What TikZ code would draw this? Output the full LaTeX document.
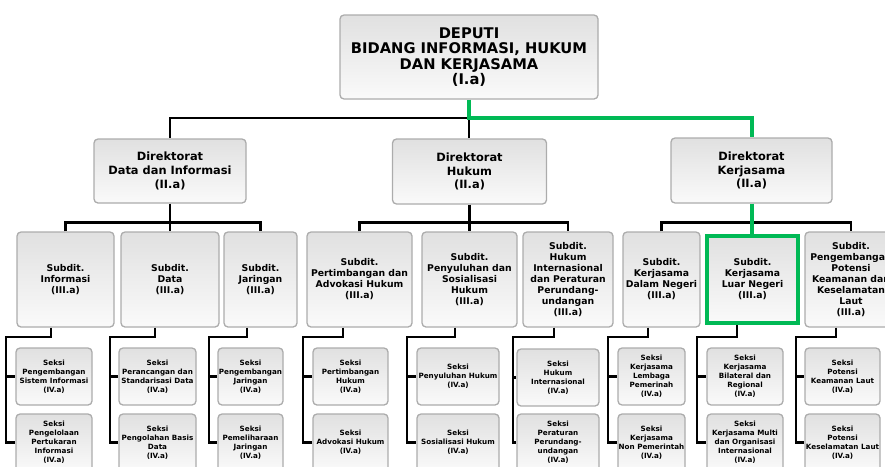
\documentclass[tikz,border=0pt]{standalone}
\usepackage{fontspec}
\setmainfont{DejaVu Sans}
\definecolor{grn}{RGB}{0,185,85}
\definecolor{bord}{RGB}{172,172,172}
\tikzset{
 box/.style={rectangle, rounded corners=4pt, draw=bord, line width=1.3pt, top color=gray!24, bottom color=gray!4, align=center, inner sep=0pt, font=\bfseries},
 topbox/.style={box, font=\bfseries\fontsize{14.7}{15.5}\selectfont},
 dirbox/.style={box, font=\bfseries\fontsize{11.4}{13.6}\selectfont},
 subbox/.style={box, minimum height=95pt, font=\bfseries\fontsize{9.3}{11}\selectfont},
 sekbox/.style={box, minimum height=57pt, font=\bfseries\fontsize{7.2}{9}\selectfont},
 conn/.style={line width=2.3pt, black},
 gconn/.style={line width=4pt, grn},
}
\newcommand\sklink[4]{%
 \draw[conn] (#1.south -| #2,0) -- (#2,337) -| (#3,0 |- #4b.west) -- (#4b.west);
 \draw[conn] (#3,0 |- #4a.west) -- (#4a.west);}
\begin{document}
\begin{tikzpicture}[x=1pt,y=-1pt]
\useasboundingbox (0,0) rectangle (885,466);
% top
\node[topbox, minimum width=258pt, minimum height=84pt] (T) at (469,57) {DEPUTI\\BIDANG INFORMASI, HUKUM\\DAN KERJASAMA\\(I.a)};
% directorates
\node[dirbox, minimum width=152pt, minimum height=64pt] (D1) at (170,171) {Direktorat\\Data dan Informasi\\(II.a)};
\node[dirbox, minimum width=154pt, minimum height=65pt] (D2) at (469.5,171.5) {Direktorat\\Hukum\\(II.a)};
\node[dirbox, minimum width=161pt, minimum height=65pt] (D3) at (751.5,170.5) {Direktorat\\Kerjasama\\(II.a)};
% subdits
\node[subbox, minimum width=97pt] (S1) at (65.5,279.5) {Subdit.\\Informasi\\(III.a)};
\node[subbox, minimum width=98pt] (S2) at (170,279.5) {Subdit.\\Data\\(III.a)};
\node[subbox, minimum width=73pt] (S3) at (260.5,279.5) {Subdit.\\Jaringan\\(III.a)};
\node[subbox, minimum width=105pt] (S4) at (359.5,279.5) {Subdit.\\Pertimbangan dan\\Advokasi Hukum\\(III.a)};
\node[subbox, minimum width=95pt] (S5) at (469.5,279.5) {Subdit.\\Penyuluhan dan\\Sosialisasi\\Hukum\\(III.a)};
\node[subbox, minimum width=90pt] (S6) at (568,279.5) {Subdit.\\Hukum\\Internasional\\dan Peraturan\\Perundang-\\undangan\\(III.a)};
\node[subbox, minimum width=77pt] (S7) at (661.5,279.5) {Subdit.\\Kerjasama\\Dalam Negeri\\(III.a)};
\node[subbox, minimum width=91pt, minimum height=87pt, rounded corners=0pt, draw=grn, line width=4pt] (S8) at (752.5,279.5) {Subdit.\\Kerjasama\\Luar Negeri\\(III.a)};
\node[subbox, minimum width=92pt] (S9) at (851,279.5) {Subdit.\\Pengembangan\\Potensi\\Keamanan dan\\Keselamatan\\Laut\\(III.a)};
% seksi
\node[sekbox, minimum width=76pt] (K1a) at (54,376.5) {Seksi\\Pengembangan\\Sistem Informasi\\(IV.a)};
\node[sekbox, minimum width=76pt] (K1b) at (54,442.5) {Seksi\\Pengelolaan\\Pertukaran\\Informasi\\(IV.a)};
\node[sekbox, minimum width=77pt] (K2a) at (157.5,376.5) {Seksi\\Perancangan dan\\Standarisasi Data\\(IV.a)};
\node[sekbox, minimum width=77pt] (K2b) at (157.5,442.5) {Seksi\\Pengolahan Basis\\Data\\(IV.a)};
\node[sekbox, minimum width=65pt] (K3a) at (250.5,376.5) {Seksi\\Pengembangan\\Jaringan\\(IV.a)};
\node[sekbox, minimum width=65pt] (K3b) at (250.5,442.5) {Seksi\\Pemeliharaan\\Jaringan\\(IV.a)};
\node[sekbox, minimum width=75pt] (K4a) at (350.5,376.5) {Seksi\\Pertimbangan\\Hukum\\(IV.a)};
\node[sekbox, minimum width=75pt] (K4b) at (350.5,442.5) {Seksi\\Advokasi Hukum\\(IV.a)};
\node[sekbox, minimum width=82pt] (K5a) at (458,376.5) {Seksi\\Penyuluhan Hukum\\(IV.a)};
\node[sekbox, minimum width=82pt] (K5b) at (458,442.5) {Seksi\\Sosialisasi Hukum\\(IV.a)};
\node[sekbox, minimum width=82pt] (K6a) at (558,377.5) {Seksi\\Hukum\\Internasional\\(IV.a)};
\node[sekbox, minimum width=82pt] (K6b) at (558,442.5) {Seksi\\Peraturan\\Perundang-\\undangan\\(IV.a)};
\node[sekbox, minimum width=67pt] (K7a) at (651.5,376.5) {Seksi\\Kerjasama\\Lembaga\\Pemerinah\\(IV.a)};
\node[sekbox, minimum width=67pt] (K7b) at (651.5,442.5) {Seksi\\Kerjasama\\Non Pemerintah\\(IV.a)};
\node[sekbox, minimum width=76pt] (K8a) at (745,376.5) {Seksi\\Kerjasama\\Bilateral dan\\Regional\\(IV.a)};
\node[sekbox, minimum width=76pt] (K8b) at (745,442.5) {Seksi\\Kerjasama Multi\\dan Organisasi\\Internasional\\(IV.a)};
\node[sekbox, minimum width=75pt] (K9a) at (842.5,376.5) {Seksi\\Potensi\\Keamanan Laut\\(IV.a)};
\node[sekbox, minimum width=75pt] (K9b) at (842.5,442.5) {Seksi\\Potensi\\Keselamatan Laut\\(IV.a)};
% connectors top levels
\coordinate (J) at (469,118);
\draw[conn] (J) -- (J |- D2.north);
\draw[conn] (J) -| (D1.north);
\draw[conn] (D1.south) -- (D1.south |- S2.north);
\draw[conn] (S1.north) -- ++(0,-9) -| (S3.north);
\draw[conn] (D2.south) -- (D2.south |- S5.north);
\draw[conn] (S4.north) -- ++(0,-9) -| (S6.north);
\draw[conn] (S7.north) -- ++(0,-9) -| (S9.north);
\draw[gconn] (T.south) -- (J) -| (D3.north);
\draw[gconn] (D3.south) -- (D3.south |- S8.north);
% seksi links
\sklink{S1}{51}{6}{K1}
\sklink{S2}{155}{110}{K2}
\sklink{S3}{247}{209}{K3}
\sklink{S4}{343}{303}{K4}
\sklink{S5}{455}{407}{K5}
\sklink{S6}{554}{513}{K6}
\sklink{S7}{648}{608}{K7}
\sklink{S8}{737}{697}{K8}
\sklink{S9}{836}{796}{K9}
\end{tikzpicture}
\end{document}
